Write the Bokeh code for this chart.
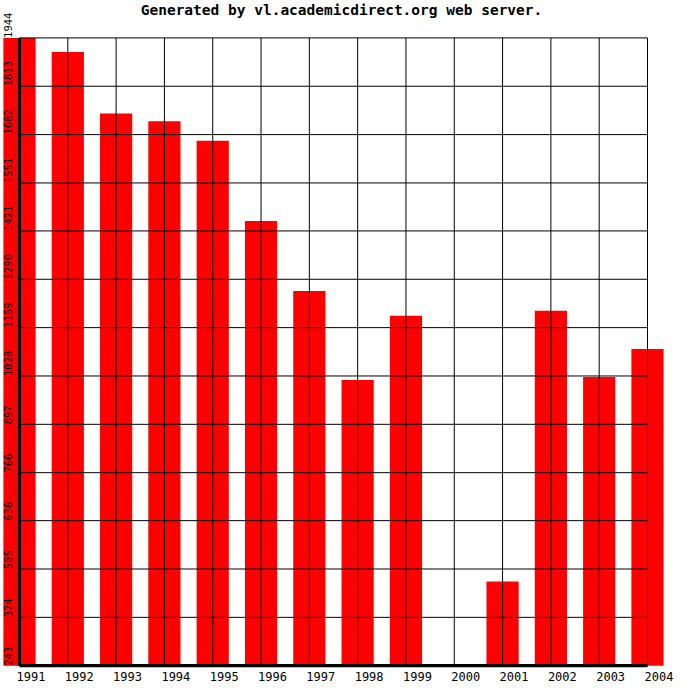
import math
from bokeh.plotting import figure
from bokeh.models import Range1d, ColumnDataSource
from bokeh.core.properties import value
from bokeh.embed import file_html
from bokeh.resources import INLINE

# ---- data ----
YEARS = [1991, 1992, 1993, 1994, 1995, 1996, 1997, 1998, 1999, 2000, 2001, 2002, 2003, 2004]
VALUES = [1944, 1906, 1739, 1718, 1665, 1448, 1258, 1017, 1191, 243, 471, 1205, 1025, 1101]
Y_TICKS = [243, 374, 505, 636, 766, 897, 1028, 1159, 1290, 1421, 1551, 1682, 1813, 1944]
Y_LABELS = ["243", "374", "505", "636", "766", "897", "1028", "1159", "1290", "1421",
            "1551", "1682", "1813", "1944"]
X_LABELS = ["1991", "1992", "1993", "1994", "1995", "1996", "1997", "1998", "1999",
            "2000", "2001", "2002", "2003", "2004"]
TITLE = "Generated by vl.academicdirect.org web server."

# ---- layout (pixels inside the figure) ----
W = H = 684
X0_PX, X1_PX = 19.0, 647.0        # first / last year
Y_TOP_PX, Y_BOT_PX = 37.4, 665.2  # top / bottom tick
ppy = (X1_PX - X0_PX) / (YEARS[-1] - YEARS[0])
ppu = (Y_BOT_PX - Y_TOP_PX) / (Y_TICKS[-1] - Y_TICKS[0])


def xd(px):
    return YEARS[0] + (px - X0_PX) / ppy


def yd(py):
    return Y_TICKS[0] + (Y_BOT_PX - py) / ppu


FONT = value("DejaVu Sans Mono")

p = figure(width=W, height=H, title=None,
           x_range=Range1d(xd(0), xd(W)), y_range=Range1d(yd(H), yd(0)),
           x_axis_location=None, y_axis_location=None,
           output_backend="svg", toolbar_location=None, min_border=0)
p.grid.grid_line_color = None
p.outline_line_color = None
p.background_fill_color = "white"
p.border_fill_color = "white"

# bars
p.vbar(x=YEARS, top=VALUES, bottom=Y_TICKS[0], width=32.2 / ppy,
       fill_color="#ff0000", line_color=None)

# grid lines
hsrc = ColumnDataSource(dict(x0=[YEARS[0]] * len(Y_TICKS), x1=[YEARS[-1]] * len(Y_TICKS),
                             y=Y_TICKS))
p.segment(x0="x0", y0="y", x1="x1", y1="y", source=hsrc, line_color="black", line_width=1)
vsrc = ColumnDataSource(dict(x=YEARS, y0=[Y_TICKS[0]] * len(YEARS), y1=[Y_TICKS[-1]] * len(YEARS)))
p.segment(x0="x", y0="y0", x1="x", y1="y1", source=vsrc, line_color="black", line_width=1)

# thick axes
p.segment(x0=[YEARS[0]], y0=[Y_TICKS[0]], x1=[YEARS[0]], y1=[Y_TICKS[-1]],
          line_color="black", line_width=3)
p.segment(x0=[YEARS[0]], y0=[Y_TICKS[0]], x1=[YEARS[-1]], y1=[Y_TICKS[0]],
          line_color="black", line_width=3.3)

# x labels
p.text(x=[yr - 3 / ppy for yr in YEARS], y=[yd(675.5)] * len(YEARS), text=X_LABELS,
       text_font=FONT, text_font_size="12px", text_align="left",
       text_baseline="alphabetic", text_color="black")

# y labels (rotated)
p.text(x=[xd(7.5)] * len(Y_TICKS), y=Y_TICKS, text=Y_LABELS, angle=math.pi / 2,
       text_font=FONT, text_font_size="10.5px", text_align="left",
       text_baseline="alphabetic", text_color="black")

# title
p.text(x=[xd(341)], y=[yd(9.0)], text=[TITLE], text_font=FONT,
       text_font_size="14.5px", text_font_style="bold", text_align="center",
       text_baseline="alphabetic", text_color="black")

open("out.html", "w").write(file_html(p, INLINE))
